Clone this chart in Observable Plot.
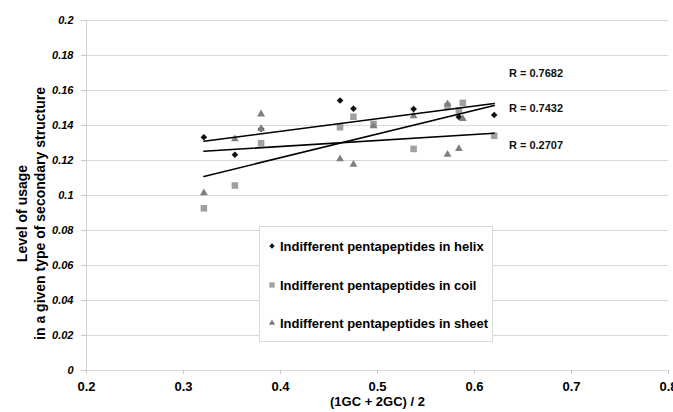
<!DOCTYPE html>
<html><head><meta charset="utf-8">
<script src="https://cdn.jsdelivr.net/npm/d3@7"></script>
<script src="https://cdn.jsdelivr.net/npm/@observablehq/plot@0.6"></script>
<style>
body{margin:0;background:#fff;}
#wrap{position:relative;width:673px;height:412px;font-family:"Liberation Sans",Arial,sans-serif;}
#legend{position:absolute;left:259px;top:226px;width:234px;height:116px;background:#fff;border:1px solid #d9d9d9;box-sizing:border-box;}
.item{position:absolute;left:7px;height:16px;font-weight:bold;font-size:13px;white-space:nowrap;display:flex;align-items:center;color:#000;}
.item svg{margin-right:3px;}
</style></head>
<body><div id="wrap"></div>
<script>
// ---- data ----
const helixX = [0.321, 0.353, 0.380, 0.4614, 0.4752, 0.5372, 0.5839, 0.6203];
const helixY = [0.1333, 0.1233, 0.1381, 0.1543, 0.1496, 0.1494, 0.1449, 0.1460];

const coilX = [0.321, 0.353, 0.380, 0.4614, 0.4752, 0.4959, 0.5372, 0.5722, 0.5839, 0.588, 0.6203];
const coilY = [0.0927, 0.1057, 0.1299, 0.1390, 0.1450, 0.1409, 0.1266, 0.1511, 0.1486, 0.1529, 0.1341];

const sheetX = [0.321, 0.353, 0.380, 0.380, 0.4614, 0.4752, 0.4959, 0.5372, 0.5722, 0.5722, 0.5839, 0.588];
const sheetY = [0.1014, 0.1323, 0.1465, 0.1381, 0.1209, 0.1177, 0.1397, 0.1454, 0.1523, 0.1234, 0.1267, 0.1438];

const trendX = [0.321, 0.6203];
const helixTrend = [0.1310, 0.1526];
const coilTrend = [0.1109, 0.1514];
const sheetTrend = [0.1253, 0.1356];

const rLabels = ["R = 0.7682", "R = 0.7432", "R = 0.2707"];
const rLabelX = [0.6355, 0.6355, 0.6355];
const rLabelY = [0.1696, 0.1497, 0.1286];

const seriesNames = ["Indifferent pentapeptides in helix", "Indifferent pentapeptides in coil", "Indifferent pentapeptides in sheet"];

const xTicks = [0.2, 0.3, 0.4, 0.5, 0.6, 0.7, 0.8];
const xTickLabels = ["0.2", "0.3", "0.4", "0.5", "0.6", "0.7", "0.8"];
const yTicks = [0, 0.02, 0.04, 0.06, 0.08, 0.1, 0.12, 0.14, 0.16, 0.18, 0.2];
const yTickLabels = ["0", "0.02", "0.04", "0.06", "0.08", "0.1", "0.12", "0.14", "0.16", "0.18", "0.2"];

const xTitle = "(1GC + 2GC) / 2";
const yTitle = "Level of usage\nin a given type of secondary structure";

// ---- build tables ----
const helix = helixX.map((x, i) => ({x, y: helixY[i]}));
const coil = coilX.map((x, i) => ({x, y: coilY[i]}));
const sheet = sheetX.map((x, i) => ({x, y: sheetY[i]}));
const trends = [
  ...trendX.map((x, i) => ({s: "helix", x, y: helixTrend[i]})),
  ...trendX.map((x, i) => ({s: "coil", x, y: coilTrend[i]})),
  ...trendX.map((x, i) => ({s: "sheet", x, y: sheetTrend[i]}))
];
const rTable = rLabels.map((t, i) => ({t, x: rLabelX[i], y: rLabelY[i]}));

const styles = {
  helix: {symbol: "diamond2", r: 3.0, fill: "#111"},
  coil: {symbol: "square", r: 3.7, fill: "#a0a0a0"},
  sheet: {symbol: "triangle", r: 2.9, fill: "#7f7f7f"}
};

const chart = Plot.plot({
  width: 673, height: 412,
  marginLeft: 86, marginRight: 5, marginTop: 20, marginBottom: 42,
  x: {domain: [xTicks[0], xTicks[xTicks.length - 1]]},
  y: {domain: [yTicks[0], yTicks[yTicks.length - 1]]},
  style: {fontFamily: "'Liberation Sans', Arial, sans-serif", background: "white", color: "black"},
  marks: [
    Plot.gridY(yTicks, {stroke: "#d9d9d9", strokeOpacity: 1}),
    Plot.ruleX([xTicks[0]], {stroke: "#d0d0d0"}),
    Plot.axisY({ticks: yTicks, tickFormat: d => yTickLabels[yTicks.indexOf(d)], tickSize: 5, tickPadding: 8,
      fontSize: 11, fontWeight: "bold", fontStyle: "italic", stroke: "#c8c8c8", fill: "black", label: null}),
    Plot.axisX({ticks: xTicks, tickFormat: d => xTickLabels[xTicks.indexOf(d)], tickSize: 4, tickPadding: 7,
      fontSize: 13, fontWeight: "bold", stroke: "#c8c8c8", fill: "black", label: null}),
    Plot.dot(helix, {x: "x", y: "y", ...styles.helix}),
    Plot.dot(coil, {x: "x", y: "y", ...styles.coil}),
    Plot.dot(sheet, {x: "x", y: "y", ...styles.sheet}),
    Plot.line(trends, {x: "x", y: "y", z: "s", stroke: "#000", strokeWidth: 1.6}),
    Plot.text(rTable, {x: "x", y: "y", text: "t", textAnchor: "start", fontSize: 11, fontWeight: "bold", fill: "#111"}),
    Plot.text([xTitle], {text: d => d, frameAnchor: "bottom", dy: 35, fontSize: 13, fontWeight: "bold"}),
    Plot.text([yTitle], {text: d => d, frameAnchor: "left", textAnchor: "middle", rotate: -90, dx: -56, dy: 18, fontSize: 14, fontWeight: "bold", lineHeight: 1.28})
  ]
});

const wrap = document.getElementById("wrap");
wrap.appendChild(chart);

// legend (HTML, over the plot)
const legend = document.createElement("div");
legend.id = "legend";
const keys = ["helix", "coil", "sheet"];
const tops = [11, 50, 88];
keys.forEach((k, i) => {
  const item = document.createElement("div");
  item.className = "item";
  item.style.top = tops[i] + "px";
  const sym = {diamond2: d3.symbolDiamond2, square: d3.symbolSquare, triangle: d3.symbolTriangle}[styles[k].symbol];
  const size = Math.PI * Math.pow(styles[k].r * 0.8, 2);
  const path = d3.symbol(sym, size)();
  item.innerHTML = `<svg width="10" height="10" viewBox="-5 -5 10 10"><path d="${path}" fill="${styles[k].fill}"/></svg><span>${seriesNames[i]}</span>`;
  legend.appendChild(item);
});
wrap.appendChild(legend);
</script>
</body></html>
